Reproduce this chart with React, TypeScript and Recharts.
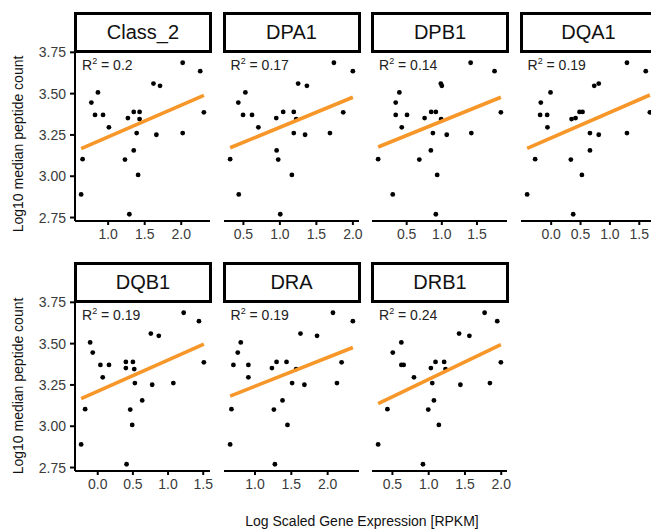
import React from 'react';
import { ScatterChart, Scatter, XAxis, YAxis } from 'recharts';

// Log10 median peptide count per sample (same samples in every panel)
const peptideCount = [
  3.687, 3.636, 3.561, 3.547, 3.507, 3.446, 3.389, 3.389, 3.387, 3.371, 3.371, 3.352,
  3.346, 3.296, 3.261, 3.261, 3.251, 3.156, 3.103, 3.101, 3.008, 2.89, 2.77,
];

// Log scaled expression [RPKM] per gene, same sample order as above
const class2 = [2.02, 2.26, 1.62, 1.71, 0.86, 0.77, 1.35, 1.43, 2.31, 0.82, 0.93, 1.27, 1.43, 1.01, 1.39, 2.02, 1.66, 1.35, 0.65, 1.23, 1.41, 0.63, 1.29];
const dpa1 = [1.74, 2.0, 1.25, 1.37, 0.527, 0.43, 1.045, 1.19, 1.868, 0.495, 0.618, 0.95, 1.223, 0.705, 1.19, 1.686, 1.345, 0.955, 0.318, 0.977, 1.164, 0.436, 1.005];
const dpb1 = [1.41, 1.75, 0.986, 1.0, 0.396, 0.344, 0.849, 0.915, 1.84, 0.344, 0.505, 0.755, 0.99, 0.43, 0.873, 1.42, 1.07, 0.844, 0.094, 0.68, 0.934, 0.302, 0.915];
const dqa1 = [1.29, 1.61, 0.81, 0.733, -0.011, -0.176, 0.483, 0.534, 1.68, -0.188, -0.068, 0.415, 0.347, -0.063, 0.66, 1.29, 0.81, 0.66, -0.273, 0.335, 0.523, -0.409, 0.375];
const dqb1 = [1.222, 1.439, 0.755, 0.868, -0.108, -0.071, 0.4, 0.5, 1.509, 0.038, 0.16, 0.4, 0.519, 0.071, 0.528, 1.075, 0.774, 0.632, -0.179, 0.462, 0.49, -0.236, 0.41];
const dra = [2.073, 2.347, 1.626, 1.854, 0.804, 0.763, 1.297, 1.434, 2.192, 0.703, 0.909, 1.233, 1.566, 0.909, 1.511, 2.128, 1.68, 1.379, 0.676, 1.26, 1.447, 0.658, 1.274];
const drb1 = [1.771, 1.945, 1.419, 1.561, 0.623, 0.505, 1.094, 1.213, 1.995, 0.623, 0.655, 1.03, 1.232, 0.797, 1.049, 1.844, 1.437, 1.072, 0.431, 0.994, 1.14, 0.303, 0.921];

const genes = ['Class_2', 'DPA1', 'DPB1', 'DQA1', 'DQB1', 'DRA', 'DRB1'];
const expression = [class2, dpa1, dpb1, dqa1, dqb1, dra, drb1];
const rSquared = ['0.2', '0.17', '0.14', '0.19', '0.19', '0.19', '0.24'];
const xTicks = [
  [1.0, 1.5, 2.0],
  [0.5, 1.0, 1.5, 2.0],
  [0.5, 1.0, 1.5],
  [0.0, 0.5, 1.0, 1.5],
  [0.0, 0.5, 1.0, 1.5],
  [1.0, 1.5, 2.0],
  [0.5, 1.0, 1.5, 2.0],
];
const yTicks = [2.75, 3.0, 3.25, 3.5, 3.75];
const yDomain: [number, number] = [2.729, 3.752];

const ORANGE = '#F7972A';
const FONT = '"Liberation Sans", Arial, Helvetica, sans-serif';
const TICK_COLOR = '#3a3a3a';

const COL_LEFT = [75, 223.5, 372, 520.5];
const ROW_TOP = [52, 302];
const PANEL_W = 135;
const PANEL_H = 169;
const Y_AXIS_W = 45;
const TOP_PAD = 10;

// least squares fit, evaluated at the ends of the x range
function fitLine(xs: number[], ys: number[]) {
  const n = xs.length;
  const mx = xs.reduce((s, v) => s + v, 0) / n;
  const my = ys.reduce((s, v) => s + v, 0) / n;
  let sxy = 0;
  let sxx = 0;
  for (let i = 0; i < n; i++) {
    sxy += (xs[i] - mx) * (ys[i] - my);
    sxx += (xs[i] - mx) * (xs[i] - mx);
  }
  const b = sxy / sxx;
  const a = my - b * mx;
  const lo = Math.min(...xs);
  const hi = Math.max(...xs);
  return [
    { x: lo, y: a + b * lo },
    { x: hi, y: a + b * hi },
  ];
}

function Panel({ index }: { index: number }) {
  const col = index < 4 ? index : index - 4;
  const row = index < 4 ? 0 : 1;
  const left = COL_LEFT[col];
  const top = ROW_TOP[row];
  const xs = expression[index];
  const points = xs.map((x, i) => ({ x, y: peptideCount[i] }));
  const lo = Math.min(...xs);
  const hi = Math.max(...xs);
  const pad = (hi - lo) * 0.05;
  const showY = col === 0;

  return (
    <>
      {/* facet strip */}
      <div
        style={{
          position: 'absolute',
          left: left - 1,
          top: top - 40,
          width: PANEL_W + 3,
          height: 41,
          border: '3px solid #000',
          boxSizing: 'border-box',
          background: '#fff',
          display: 'flex',
          alignItems: 'center',
          justifyContent: 'center',
          fontSize: 20,
          color: '#111',
        }}
      >
        {genes[index]}
      </div>

      <div style={{ position: 'absolute', left: left - Y_AXIS_W, top: top - TOP_PAD }}>
        <ScatterChart
          width={Y_AXIS_W + PANEL_W + 14}
          height={TOP_PAD + PANEL_H + 32}
          margin={{ top: TOP_PAD, right: 14, bottom: 0, left: 0 }}
        >
          <XAxis
            type="number"
            dataKey="x"
            domain={[lo - pad, hi + pad]}
            allowDataOverflow
            ticks={xTicks[index]}
            tickFormatter={(v: number) => v.toFixed(1)}
            height={32}
            axisLine={{ stroke: '#000', strokeWidth: 2 }}
            tickLine={{ stroke: '#000', strokeWidth: 2 }}
            tickSize={4}
            tickMargin={4}
            tick={{ fill: TICK_COLOR, fontSize: 14, fontFamily: FONT }}
          />
          <YAxis
            type="number"
            dataKey="y"
            domain={yDomain}
            allowDataOverflow
            ticks={yTicks}
            tickFormatter={(v: number) => v.toFixed(2)}
            width={Y_AXIS_W}
            axisLine={showY ? { stroke: '#000', strokeWidth: 2 } : false}
            tickLine={showY ? { stroke: '#000', strokeWidth: 2 } : false}
            tick={showY ? { fill: TICK_COLOR, fontSize: 14, fontFamily: FONT } : false}
            tickSize={5}
            tickMargin={4}
          />
          <Scatter
            data={points}
            isAnimationActive={false}
            shape={(p: any) => <circle cx={p.cx} cy={p.cy} r={2.4} fill="#000" />}
          />
          <Scatter
            data={fitLine(xs, peptideCount)}
            isAnimationActive={false}
            line={{ stroke: ORANGE, strokeWidth: 3.6 }}
            shape={() => <g />}
          />
        </ScatterChart>
      </div>

      <div
        style={{
          position: 'absolute',
          left: left + 7,
          top: top + 4,
          fontSize: 14,
          color: '#222',
          whiteSpace: 'nowrap',
        }}
      >
        R<sup style={{ fontSize: 9, verticalAlign: 6 }}>2</sup> = {rSquared[index]}
      </div>
    </>
  );
}

export default function App() {
  return (
    <div
      style={{
        position: 'fixed',
        left: 0,
        top: 0,
        width: 651,
        height: 531,
        overflow: 'hidden',
        background: '#fff',
        fontFamily: FONT,
      }}
    >
      {genes.map((g, i) => (
        <Panel key={g} index={i} />
      ))}

      {[144, 386].map((cy) => (
        <div
          key={cy}
          style={{
            position: 'absolute',
            left: 18,
            top: cy,
            transform: 'translate(-50%, -50%) rotate(-90deg)',
            fontSize: 14,
            color: '#111',
            whiteSpace: 'nowrap',
          }}
        >
          Log10 median peptide count
        </div>
      ))}

      <div
        style={{
          position: 'absolute',
          left: 362,
          top: 521,
          transform: 'translate(-50%, -50%)',
          fontSize: 14,
          color: '#111',
          whiteSpace: 'nowrap',
        }}
      >
        Log Scaled Gene Expression [RPKM]
      </div>
    </div>
  );
}
